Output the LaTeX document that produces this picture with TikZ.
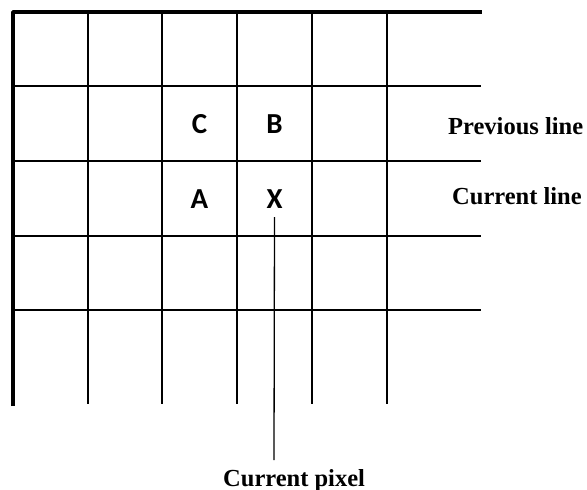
\documentclass[tikz,border=0pt]{standalone}
\usepackage{fontspec}
\setmainfont{Liberation Serif}
\newfontfamily\letterfont{Carlito}
\begin{document}
\begin{tikzpicture}[x=1pt,y=-1pt,
  frame/.style={line width=3.6pt,line join=round},
  gridline/.style={line width=1.8pt},
  pointer/.style={line width=1.3pt},
  cell/.style={font=\letterfont\bfseries\fontsize{29}{32}\selectfont,inner sep=0pt},
  lab/.style={font=\bfseries\fontsize{24.5}{28}\selectfont,inner sep=0pt,anchor=base west}]
\useasboundingbox (0,0) rectangle (587,490);
% grid
\foreach \x in {88,162,237,312,387} \draw[gridline] (\x,12) -- (\x,404);
\foreach \y in {86,161,236,310} \draw[gridline] (13,\y) -- (481,\y);
\draw[frame] (13,406) -- (13,12) -- (482,12);
% cell letters
\node[cell,anchor=base] (C) at (199.5,133) {C};
\node[cell,anchor=base] (B) at (274.5,133) {B};
\node[cell,anchor=base] (A) at (199.5,208) {A};
\node[cell,anchor=base] (X) at (274.5,208) {X};
% labels
\node[lab] (prev) at (448,134) {Previous line};
\node[lab] (curl) at (452,204) {Current line};
\node[lab] (pix) at (223,486) {Current pixel};
\coordinate (pend) at (274,460);
\draw[pointer] ([yshift=-9pt]X.base) -- (pend);
\end{tikzpicture}
\end{document}
